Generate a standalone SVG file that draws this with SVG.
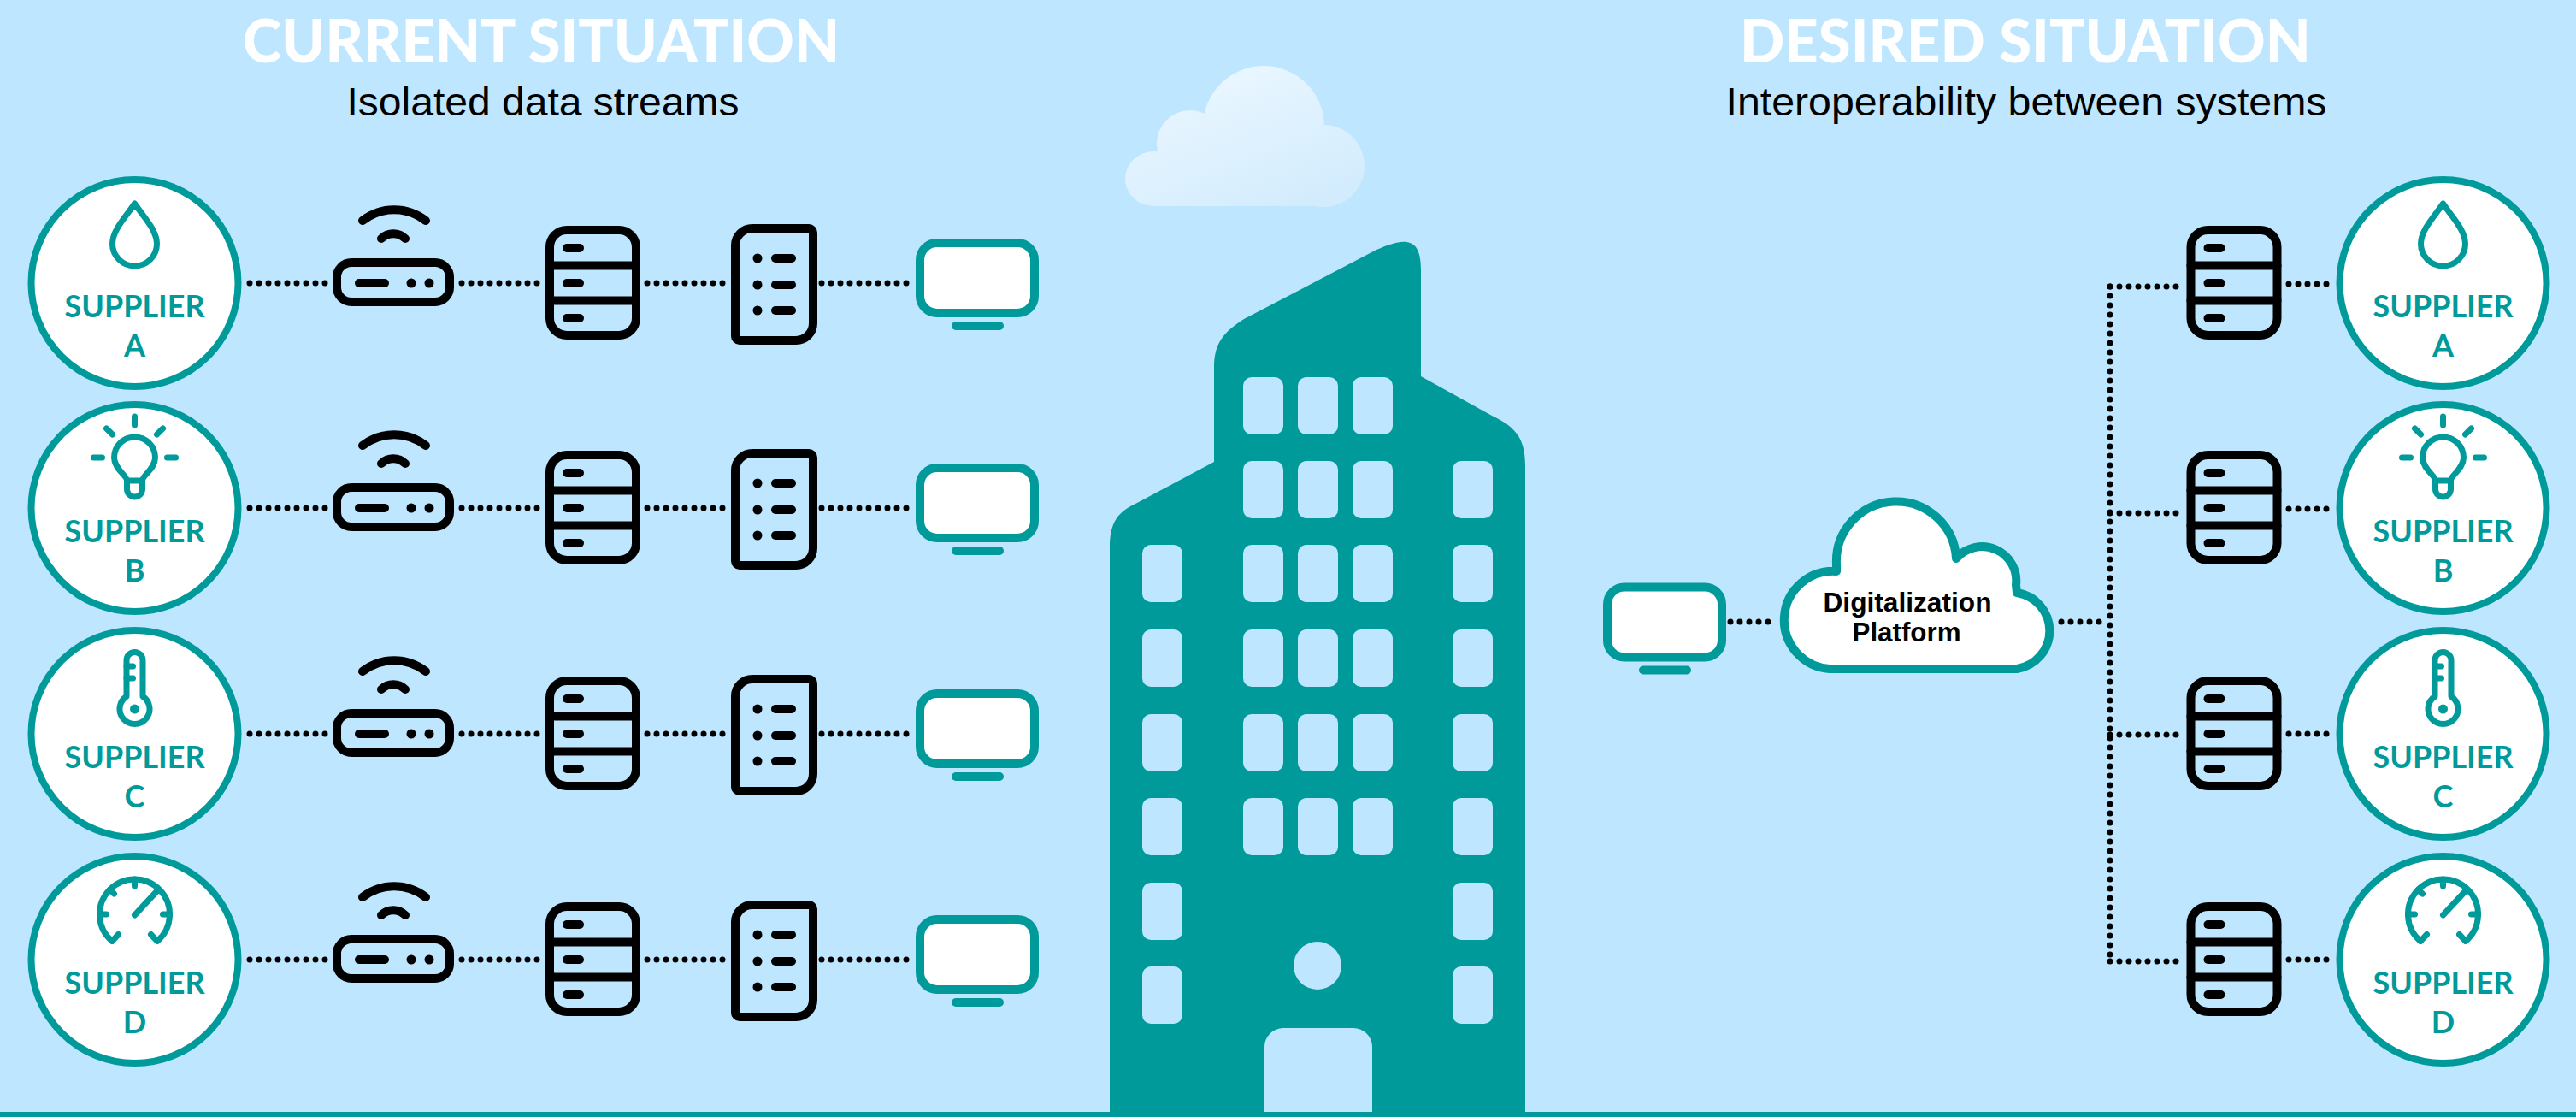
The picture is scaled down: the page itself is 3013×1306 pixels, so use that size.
<svg xmlns="http://www.w3.org/2000/svg" width="3013" height="1306" viewBox="0 0 3013 1306">
  <style>
    .bg{fill:#bee6fe}
    .teal{fill:#019a9a}
    .win{fill:#bee6fe}
    .title{font-family:Lato,"Open Sans","Liberation Sans",sans-serif;font-weight:900;font-size:71px;fill:#fff;text-anchor:middle}
    .sub{font-family:"Liberation Sans",Arial,sans-serif;font-size:46px;fill:#000;text-anchor:middle}
    .sup{font-family:Lato,"Liberation Sans",sans-serif;font-weight:700;font-size:36px;fill:#019a9a;text-anchor:middle}
    .plat{font-family:"Liberation Sans",Arial,sans-serif;font-weight:700;font-size:31px;fill:#000;text-anchor:middle}
    .ring{fill:#fff;stroke:#019a9a;stroke-width:8}
    .ico{fill:none;stroke:#019a9a;stroke-width:7;stroke-linecap:round;stroke-linejoin:round}
    .blk{fill:none;stroke:#000;stroke-width:10;stroke-linecap:round;stroke-linejoin:round}
    .mon{fill:#fff;stroke:#019a9a;stroke-width:10;stroke-linecap:round;stroke-linejoin:round}
    .cloud{fill:#fff;stroke:#019a9a;stroke-width:10;stroke-linejoin:round}
    .dots{fill:none;stroke:#000;stroke-width:7;stroke-linecap:round;stroke-dasharray:0 11}
  </style>
  <defs>
    <linearGradient id="skyCloud" gradientUnits="userSpaceOnUse" x1="1430" y1="90" x2="1490" y2="250">
      <stop offset="0" stop-color="#e8f6ff"/>
      <stop offset="1" stop-color="#d3ecfd"/>
    </linearGradient>
    <!-- device icons, centred on their row line -->
    <g id="router">
      <rect class="blk" x="-66" y="-24" width="132" height="46" rx="17"/>
      <line class="blk" x1="-40" y1="0" x2="-10" y2="0"/>
      <circle cx="21" cy="0" r="5.5"/>
      <circle cx="42" cy="0" r="5.5"/>
      <path class="blk" d="M-36,-73 A60,60 0 0 1 38,-73"/>
      <path class="blk" d="M-14,-52 A20,20 0 0 1 14,-52"/>
    </g>
    <g id="server">
      <rect class="blk" x="-50.5" y="-62" width="101" height="123" rx="20"/>
      <line class="blk" x1="-50.5" y1="-20.5" x2="50.5" y2="-20.5"/>
      <line class="blk" x1="-50.5" y1="20.5" x2="50.5" y2="20.5"/>
      <line class="blk" x1="-30.5" y1="-41" x2="-15.5" y2="-41"/>
      <line class="blk" x1="-30.5" y1="0" x2="-15.5" y2="0"/>
      <line class="blk" x1="-30.5" y1="41" x2="-15.5" y2="41"/>
    </g>
    <g id="rack">
      <path class="blk" d="M-25.5,-64 H40.5 A5,5 0 0 1 45.5,-59 V47 A20,20 0 0 1 25.5,67 H-40.5 A5,5 0 0 1 -45.5,62 V-44 A20,20 0 0 1 -25.5,-64 Z"/>
      <circle cx="-19.5" cy="-29" r="5.5"/>
      <circle cx="-19.5" cy="2" r="5.5"/>
      <circle cx="-19.5" cy="32" r="5.5"/>
      <line class="blk" x1="1.5" y1="-29" x2="20.5" y2="-29"/>
      <line class="blk" x1="1.5" y1="2" x2="20.5" y2="2"/>
      <line class="blk" x1="1.5" y1="32" x2="20.5" y2="32"/>
    </g>
    <g id="monitor">
      <rect class="mon" x="-67" y="-47" width="134" height="82" rx="20"/>
      <line class="mon" x1="-25" y1="50" x2="26" y2="50"/>
    </g>
    <!-- supplier pictograms, centred on the ring centre -->
    <g id="ico-drop">
      <path class="ico" d="M0,-93 C-10,-78 -26,-62 -26,-46 A26,26 0 0 0 26,-46 C26,-62 10,-78 0,-93 Z"/>
    </g>
    <g id="ico-bulb">
      <path class="ico" d="M-9,-32 C-9,-38 -24,-46 -24,-59 A24,24 0 0 1 24,-59 C24,-46 9,-38 9,-32 Z"/>
      <path class="ico" d="M-9,-32 V-22 A9,9 0 0 0 9,-22 V-32"/>
      <path class="ico" d="M0,-107 V-97 M-33,-93 L-26,-86 M33,-93 L26,-86 M-48,-59 H-38 M38,-59 H48"/>
    </g>
    <g id="ico-thermo">
      <path class="ico" d="M-9.5,-43.7 V-86 A9.5,9.5 0 0 1 9.5,-86 V-43.7 A17.5,17.5 0 1 1 -9.5,-43.7 Z"/>
      <path class="ico" d="M-9.5,-79 H-2 M-9.5,-65 H-2"/>
      <circle cx="0" cy="-29" r="5.5" fill="#019a9a"/>
    </g>
    <g id="ico-gauge">
      <path class="ico" d="M-26.4,-21.6 A41,41 0 1 1 26.4,-21.6"/>
      <path class="ico" d="M-26.4,-21.6 L-19,-29.5 M26.4,-21.6 L19,-29.5"/>
      <path class="ico" d="M0,-94 V-86 M-41,-53 H-33 M41,-53 H33 M-29,-82 L-24,-77"/>
      <path class="ico" d="M0,-52 L26,-80"/>
    </g>
  </defs>

  <rect class="bg" x="0" y="0" width="3013" height="1306"/>

  <!-- headings -->
  <g id="heading-current">
    <text class="title" x="633" y="73" textLength="698" lengthAdjust="spacingAndGlyphs">CURRENT SITUATION</text>
    <text class="sub" x="635" y="135" textLength="459" lengthAdjust="spacingAndGlyphs">Isolated data streams</text>
  </g>
  <g id="heading-desired">
    <text class="title" x="2369" y="73" textLength="668" lengthAdjust="spacingAndGlyphs">DESIRED SITUATION</text>
    <text class="sub" x="2370" y="135" textLength="703" lengthAdjust="spacingAndGlyphs">Interoperability between systems</text>
  </g>

  <!-- sky cloud -->
  <g id="sky-cloud" fill="url(#skyCloud)">
    <ellipse cx="1350" cy="209" rx="34" ry="32"/>
    <circle cx="1392" cy="168" r="39"/>
    <circle cx="1478" cy="148" r="71"/>
    <circle cx="1548" cy="194" r="48"/>
    <rect x="1350" y="190" width="198" height="51"/>
  </g>

  <!-- office building -->
  <g id="building">
    <path class="teal" d="M1298,1300 V640 C1298,610 1308,598 1330,588 L1420,540 V430 C1420,400 1432,388 1455,373 L1610,292 C1640,279 1662,274 1662,315 V440 L1745,486 C1775,500 1784,515 1784,545 V1300 Z"/>
    <g class="win">
      <rect x="1454" y="441" width="47" height="67" rx="10"/><rect x="1518" y="441" width="47" height="67" rx="10"/><rect x="1582" y="441" width="47" height="67" rx="10"/>
      <rect x="1454" y="539" width="47" height="67" rx="10"/><rect x="1518" y="539" width="47" height="67" rx="10"/><rect x="1582" y="539" width="47" height="67" rx="10"/>
      <rect x="1454" y="637" width="47" height="67" rx="10"/><rect x="1518" y="637" width="47" height="67" rx="10"/><rect x="1582" y="637" width="47" height="67" rx="10"/>
      <rect x="1454" y="736" width="47" height="67" rx="10"/><rect x="1518" y="736" width="47" height="67" rx="10"/><rect x="1582" y="736" width="47" height="67" rx="10"/>
      <rect x="1454" y="835" width="47" height="67" rx="10"/><rect x="1518" y="835" width="47" height="67" rx="10"/><rect x="1582" y="835" width="47" height="67" rx="10"/>
      <rect x="1454" y="933" width="47" height="67" rx="10"/><rect x="1518" y="933" width="47" height="67" rx="10"/><rect x="1582" y="933" width="47" height="67" rx="10"/>
      <rect x="1699" y="539" width="47" height="67" rx="10"/><rect x="1699" y="637" width="47" height="67" rx="10"/><rect x="1699" y="736" width="47" height="67" rx="10"/>
      <rect x="1699" y="835" width="47" height="67" rx="10"/><rect x="1699" y="933" width="47" height="67" rx="10"/><rect x="1699" y="1032" width="47" height="67" rx="10"/>
      <rect x="1699" y="1130" width="47" height="67" rx="10"/>
      <rect x="1336" y="637" width="47" height="67" rx="10"/><rect x="1336" y="736" width="47" height="67" rx="10"/><rect x="1336" y="835" width="47" height="67" rx="10"/>
      <rect x="1336" y="933" width="47" height="67" rx="10"/><rect x="1336" y="1032" width="47" height="67" rx="10"/><rect x="1336" y="1130" width="47" height="67" rx="10"/>
      <circle cx="1541" cy="1129" r="28"/>
      <path d="M1479,1300 V1224 A22,22 0 0 1 1501,1202 H1583 A22,22 0 0 1 1605,1224 V1300 Z"/>
    </g>
  </g>
  <rect id="ground" class="teal" x="0" y="1300" width="3013" height="6"/>

  <!-- dotted links -->
  <g id="connectors">
    <path class="dots" d="M292,331 H382 M540,331 H629 M757,331 H847 M961,331 H1065"/>
    <path class="dots" d="M292,594 H382 M540,594 H629 M757,594 H847 M961,594 H1065"/>
    <path class="dots" d="M292,858 H382 M540,858 H629 M757,858 H847 M961,858 H1065"/>
    <path class="dots" d="M292,1122 H382 M540,1122 H629 M757,1122 H847 M961,1122 H1065"/>
    <path class="dots" d="M2024,727 H2079 M2411,727 H2466"/>
    <path class="dots" d="M2468,335 V1124"/>
    <path class="dots" d="M2468,335 H2546 M2468,600 H2546 M2468,859 H2546 M2468,1124 H2546"/>
    <path class="dots" d="M2677,332 H2728 M2677,595 H2728 M2677,858 H2728 M2677,1122 H2728"/>
  </g>

  <!-- current situation: one isolated chain per supplier -->
  <g id="current-supplier-a" transform="translate(157.5,331)">
    <circle class="ring" r="121"/>
    <use href="#ico-drop"/>
    <text class="sup" y="40" textLength="164" lengthAdjust="spacingAndGlyphs">SUPPLIER</text>
    <text class="sup" y="86">A</text>
  </g>
  <g id="current-supplier-b" transform="translate(157.5,594)">
    <circle class="ring" r="121"/>
    <use href="#ico-bulb"/>
    <text class="sup" y="40" textLength="164" lengthAdjust="spacingAndGlyphs">SUPPLIER</text>
    <text class="sup" y="86">B</text>
  </g>
  <g id="current-supplier-c" transform="translate(157.5,858)">
    <circle class="ring" r="121"/>
    <use href="#ico-thermo"/>
    <text class="sup" y="40" textLength="164" lengthAdjust="spacingAndGlyphs">SUPPLIER</text>
    <text class="sup" y="86">C</text>
  </g>
  <g id="current-supplier-d" transform="translate(157.5,1122)">
    <circle class="ring" r="121"/>
    <use href="#ico-gauge"/>
    <text class="sup" y="40" textLength="164" lengthAdjust="spacingAndGlyphs">SUPPLIER</text>
    <text class="sup" y="86">D</text>
  </g>

  <g id="current-routers">
    <use href="#router" x="460" y="331"/>
    <use href="#router" x="460" y="594"/>
    <use href="#router" x="460" y="858"/>
    <use href="#router" x="460" y="1122"/>
  </g>
  <g id="current-servers">
    <use href="#server" x="693.5" y="331"/>
    <use href="#server" x="693.5" y="594"/>
    <use href="#server" x="693.5" y="858"/>
    <use href="#server" x="693.5" y="1122"/>
  </g>
  <g id="current-racks">
    <use href="#rack" x="905.5" y="331"/>
    <use href="#rack" x="905.5" y="594"/>
    <use href="#rack" x="905.5" y="858"/>
    <use href="#rack" x="905.5" y="1122"/>
  </g>
  <g id="current-monitors">
    <use href="#monitor" x="1143" y="331"/>
    <use href="#monitor" x="1143" y="594"/>
    <use href="#monitor" x="1143" y="858"/>
    <use href="#monitor" x="1143" y="1122"/>
  </g>

  <!-- desired situation: shared platform -->
  <g id="desired-monitor">
    <use href="#monitor" x="1947" y="733.5"/>
  </g>
  <g id="platform">
    <path class="cloud" d="M2140,782 H2359 A45,45 0 0 0 2359,693 L2358,684 A40,40 0 0 0 2288,653 A70,70 0 0 0 2148,660 L2148,668 A57,57 0 1 0 2140,782 Z"/>
    <text class="plat" x="2231" y="715" textLength="197" lengthAdjust="spacingAndGlyphs">Digitalization</text>
    <text class="plat" x="2230" y="750" textLength="127" lengthAdjust="spacingAndGlyphs">Platform</text>
  </g>
  <g id="desired-servers">
    <use href="#server" x="2613" y="331"/>
    <use href="#server" x="2613" y="594"/>
    <use href="#server" x="2613" y="858"/>
    <use href="#server" x="2613" y="1122"/>
  </g>
  <g id="desired-supplier-a" transform="translate(2857.5,331)">
    <circle class="ring" r="121"/>
    <use href="#ico-drop"/>
    <text class="sup" y="40" textLength="164" lengthAdjust="spacingAndGlyphs">SUPPLIER</text>
    <text class="sup" y="86">A</text>
  </g>
  <g id="desired-supplier-b" transform="translate(2857.5,594)">
    <circle class="ring" r="121"/>
    <use href="#ico-bulb"/>
    <text class="sup" y="40" textLength="164" lengthAdjust="spacingAndGlyphs">SUPPLIER</text>
    <text class="sup" y="86">B</text>
  </g>
  <g id="desired-supplier-c" transform="translate(2857.5,858)">
    <circle class="ring" r="121"/>
    <use href="#ico-thermo"/>
    <text class="sup" y="40" textLength="164" lengthAdjust="spacingAndGlyphs">SUPPLIER</text>
    <text class="sup" y="86">C</text>
  </g>
  <g id="desired-supplier-d" transform="translate(2857.5,1122)">
    <circle class="ring" r="121"/>
    <use href="#ico-gauge"/>
    <text class="sup" y="40" textLength="164" lengthAdjust="spacingAndGlyphs">SUPPLIER</text>
    <text class="sup" y="86">D</text>
  </g>
</svg>
